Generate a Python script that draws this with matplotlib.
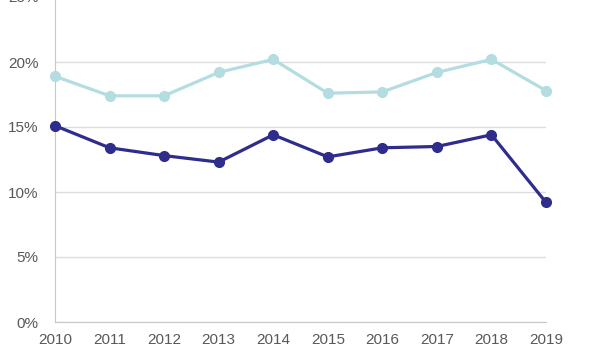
import matplotlib.pyplot as plt
from matplotlib.ticker import FuncFormatter

plt.rcParams['font.family'] = ['Liberation Sans', 'DejaVu Sans']

years = [2010, 2011, 2012, 2013, 2014, 2015, 2016, 2017, 2018, 2019]
light_series = [18.9, 17.4, 17.4, 19.2, 20.2, 17.6, 17.7, 19.2, 20.2, 17.8]
dark_series = [15.1, 13.4, 12.8, 12.3, 14.4, 12.7, 13.4, 13.5, 14.4, 9.2]

fig = plt.figure(figsize=(6, 3.62), dpi=100)
ax = fig.add_axes([55 / 600, 40 / 362, 491 / 600, 325 / 362])

ax.plot(years, light_series, color='#b3dde1', linewidth=2.3, marker='o',
        markersize=7, zorder=3, clip_on=False)
ax.plot(years, dark_series, color='#2e2c8c', linewidth=2.3, marker='o',
        markersize=7, zorder=4, clip_on=False)

ax.set_xlim(2010, 2019)
ax.set_ylim(0, 25)
ax.set_xticks(years)
ax.set_yticks([0, 5, 10, 15, 20, 25])
ax.yaxis.set_major_formatter(FuncFormatter(lambda v, p: f'{v:.0f}%'))

ax.grid(axis='y', color='#dcdcdc', linewidth=1)
ax.set_axisbelow(True)
for side in ['top', 'right']:
    ax.spines[side].set_visible(False)
for side in ['left', 'bottom']:
    ax.spines[side].set_color('#c8c8c8')
ax.tick_params(length=0, labelsize=11, colors='#595959')
ax.tick_params(axis='y', pad=12)
ax.tick_params(axis='x', pad=8)

fig.savefig('out.png', dpi=100)
